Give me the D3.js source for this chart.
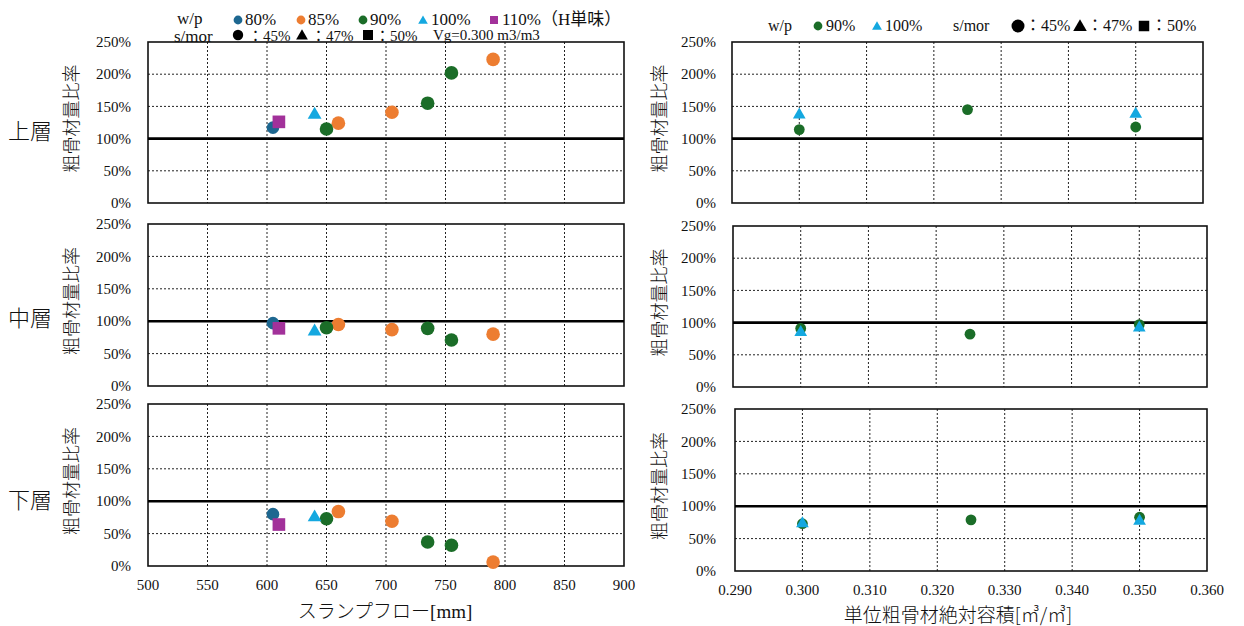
<!DOCTYPE html>
<html>
<head>
<meta charset="utf-8">
<script src="https://cdn.jsdelivr.net/npm/d3@7"></script>
<style>
  html, body { margin: 0; padding: 0; background: #fff; }
  svg { display: block; }
  text { font-family: "Liberation Serif", "Noto Sans CJK JP", serif; fill: #111; }
  .cjk { font-family: "Noto Sans CJK JP", sans-serif; font-weight: 300; }
</style>
</head>
<body>
<svg id="chart" width="1244" height="626"></svg>
<script>
// ---- data ---------------------------------------------------------------
// layers (rows)
const layers = ["上層", "中層", "下層"];

// left: slump flow [mm] vs coarse aggregate ratio [%], by w/p
const flow80 = [605];
const ratio80 = { top: [117], mid: [97], bot: [80] };
const flow85 = [660, 705, 790];
const ratio85 = { top: [124, 141, 223], mid: [95, 87, 80], bot: [84, 69, 6] };
const flow90 = [650, 735, 755];
const ratio90 = { top: [115, 155, 202], mid: [90, 89, 71], bot: [73, 37, 32] };
const flow100 = [640];
const ratio100 = { top: [137], mid: [84], bot: [75] };
const flow110 = [610];
const ratio110 = { top: [126], mid: [89], bot: [64] };

// right: unit coarse aggregate volume [m3/m3] vs ratio [%]
const vg90 = [0.300, 0.325, 0.350];
const vgRatio90 = { top: [114, 145, 118], mid: [91, 82, 97], bot: [73, 79, 83] };
const vg100 = [0.300, 0.350];
const vgRatio100 = { top: [137, 138], mid: [85, 92], bot: [73, 77] };

// ticks
const yTicks = [0, 50, 100, 150, 200, 250];
const flowTicks = [500, 550, 600, 650, 700, 750, 800, 850, 900];
const vgTicks = [0.290, 0.300, 0.310, 0.320, 0.330, 0.340, 0.350, 0.360];

// ---- styling ------------------------------------------------------------
const C80 = "#1d6790", C85 = "#ed7d31", C90 = "#1b6d28", C100 = "#14a8e0", C110 = "#a2319a";
const rowKeys = ["top", "mid", "bot"];

const svg = d3.select("#chart");

// panel frames
const leftFrames = [
  { x0: 148, x1: 624, y0: 42, y1: 203 },
  { x0: 148, x1: 624, y0: 224, y1: 386 },
  { x0: 148, x1: 624, y0: 404, y1: 566 }
];
const rightFrames = [
  { x0: 732, x1: 1203, y0: 42, y1: 203 },
  { x0: 733, x1: 1207, y0: 226, y1: 387 },
  { x0: 735, x1: 1207, y0: 409, y1: 571 }
];

function drawPanel(f, xDomain, xTickVals, showXLabels, xFmt, markersFn, yLabelX, titleX) {
  const x = d3.scaleLinear().domain(xDomain).range([f.x0, f.x1]);
  const y = d3.scaleLinear().domain([0, 250]).range([f.y1, f.y0]);
  const g = svg.append("g");

  // dotted grid
  g.selectAll(".vg").data(xTickVals.slice(1, -1)).enter().append("line")
    .attr("x1", d => x(d)).attr("x2", d => x(d))
    .attr("y1", f.y0).attr("y2", f.y1)
    .attr("stroke", "#222").attr("stroke-width", 1).attr("stroke-dasharray", "2,2");
  g.selectAll(".hg").data(yTicks.filter(d => d !== 0 && d !== 250 && d !== 100)).enter().append("line")
    .attr("x1", f.x0).attr("x2", f.x1)
    .attr("y1", d => y(d)).attr("y2", d => y(d))
    .attr("stroke", "#222").attr("stroke-width", 1).attr("stroke-dasharray", "2,2");

  // frame
  g.append("rect").attr("x", f.x0).attr("y", f.y0)
    .attr("width", f.x1 - f.x0).attr("height", f.y1 - f.y0)
    .attr("fill", "none").attr("stroke", "#111").attr("stroke-width", 1.6);

  // 100% reference
  g.append("line").attr("x1", f.x0).attr("x2", f.x1)
    .attr("y1", y(100)).attr("y2", y(100))
    .attr("stroke", "#000").attr("stroke-width", 2.6);

  // y tick labels
  g.selectAll(".yl").data(yTicks).enter().append("text")
    .attr("x", yLabelX).attr("y", d => y(d)).attr("dy", "0.35em")
    .attr("text-anchor", "end").attr("font-size", 15)
    .text(d => d + "%");

  // y title
  g.append("text").attr("class", "cjk")
    .attr("transform", `translate(${titleX},${(f.y0 + f.y1) / 2 - 4}) rotate(-90)`)
    .attr("text-anchor", "middle").attr("dy", "0.35em")
    .attr("font-size", 18).text("粗骨材量比率");

  if (showXLabels) {
    g.selectAll(".xl").data(xTickVals).enter().append("text")
      .attr("x", d => x(d)).attr("y", f.y1 + 19).attr("dy", "0.35em")
      .attr("text-anchor", "middle").attr("font-size", 15)
      .text(xFmt);
  }
  markersFn(g, x, y);
}

function circles(g, xs, ys, x, y, color, r) {
  g.selectAll(null).data(xs.map((d, i) => [d, ys[i]])).enter().append("circle")
    .attr("cx", d => x(d[0])).attr("cy", d => y(d[1])).attr("r", r).attr("fill", color);
}
function symbols(g, xs, ys, x, y, color, type, size) {
  const sym = d3.symbol().type(type).size(size);
  g.selectAll(null).data(xs.map((d, i) => [d, ys[i]])).enter().append("path")
    .attr("d", sym)
    .attr("transform", d => `translate(${x(d[0])},${y(d[1])})`)
    .attr("fill", color);
}

// ---- left column: slump flow ---------------------------------------------
leftFrames.forEach((f, i) => {
  const k = rowKeys[i];
  drawPanel(f, [500, 900], flowTicks, i === 2, d => d, (g, x, y) => {
    circles(g, flow80, ratio80[k], x, y, C80, 6.3);
    circles(g, flow85, ratio85[k], x, y, C85, 6.8);
    circles(g, flow90, ratio90[k], x, y, C90, 6.8);
    symbols(g, flow100, ratio100[k], x, y, C100, d3.symbolTriangle, 82);
    symbols(g, flow110, ratio110[k], x, y, C110, d3.symbolSquare, 160);
  }, 131, 72);
  // layer label
  svg.append("text").attr("class", "cjk")
    .attr("x", 30).attr("y", [131, 318, 500][i]).attr("dy", "0.35em")
    .attr("text-anchor", "middle").attr("font-size", 22).text(layers[i]);
});

// ---- right column: unit coarse aggregate volume ---------------------------
rightFrames.forEach((f, i) => {
  const k = rowKeys[i];
  drawPanel(f, [0.290, 0.360], vgTicks, i === 2, d3.format(".3f"), (g, x, y) => {
    circles(g, vg90, vgRatio90[k], x, y, C90, 5.4);
    symbols(g, vg100, vgRatio100[k], x, y, C100, d3.symbolTriangle, 70);
  }, 716, 660);
});

// axis titles
svg.append("text").attr("x", 385).attr("y", 611).attr("dy", "0.35em")
  .attr("text-anchor", "middle").attr("font-size", 19)
  .html('<tspan class="cjk">スランプフロー</tspan>[mm]');
svg.append("text").attr("class", "cjk").attr("x", 958).attr("y", 615).attr("dy", "0.35em")
  .attr("text-anchor", "middle").attr("font-size", 19)
  .text("単位粗骨材絶対容積[㎥/㎥]");

// ---- legends ------------------------------------------------------------
function lgText(x, y, s, size, anchor) {
  svg.append("text").attr("x", x).attr("y", y).attr("font-size", size)
    .attr("text-anchor", anchor || "start").text(s);
}
function lgCircle(x, y, r, c) { svg.append("circle").attr("cx", x).attr("cy", y).attr("r", r).attr("fill", c); }
function lgSym(x, y, type, size, c) {
  svg.append("path").attr("d", d3.symbol().type(type).size(size)())
    .attr("transform", `translate(${x},${y})`).attr("fill", c);
}

// left legend, row 1: w/p
lgText(177, 24, "w/p", 17);
lgCircle(238, 20, 4.4, C80);   lgText(245, 25, "80%", 17);
lgCircle(301, 20, 4.4, C85);   lgText(308, 25, "85%", 17);
lgCircle(363, 20, 4.4, C90);   lgText(370, 25, "90%", 17);
lgSym(423, 21, d3.symbolTriangle, 40, C100); lgText(431, 25, "100%", 17);
lgSym(494, 20, d3.symbolSquare, 64, C110);   lgText(502, 25, "110%（H単味）", 17);
// left legend, row 2: s/mor
lgText(174, 42, "s/mor", 17);
lgCircle(238, 35, 5.2, "#000"); lgText(248, 41, "：45%", 15);
lgSym(302, 36, d3.symbolTriangle, 60, "#000"); lgText(311, 41, "：47%", 15);
lgSym(368, 35, d3.symbolSquare, 100, "#000");  lgText(375, 41, "：50%", 15);
lgText(433, 40, "Vg=0.300 m3/m3", 15);

// right legend
lgText(768, 31, "w/p", 16);
lgCircle(818, 26, 4.4, C90);  lgText(826, 31, "90%", 16);
lgSym(877, 27, d3.symbolTriangle, 42, C100); lgText(885, 31, "100%", 16);
lgText(953, 31, "s/mor", 16);
lgCircle(1018, 26, 6.5, "#000"); lgText(1025, 31, "：45%", 16);
lgSym(1080, 27, d3.symbolTriangle, 80, "#000"); lgText(1087, 31, "：47%", 16);
lgSym(1144, 26, d3.symbolSquare, 110, "#000");  lgText(1151, 31, "：50%", 16);
</script>
</body>
</html>
